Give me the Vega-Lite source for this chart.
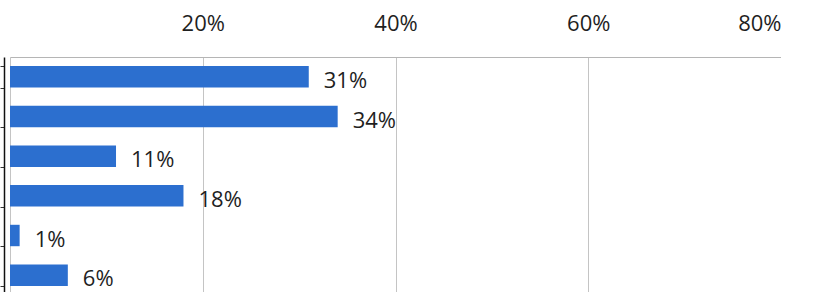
{
  "$schema": "https://vega.github.io/schema/vega-lite/v6.json",
  "autosize": {"type": "none"},
  "padding": {"left": 10, "top": 57, "right": 0, "bottom": 0},
  "width": 771,
  "height": 238,
  "background": "white",
  "config": {"view": {"stroke": null}},
  "data": {
    "values": [
      {"cat": "1", "share": 0.31},
      {"cat": "2", "share": 0.34},
      {"cat": "3", "share": 0.11},
      {"cat": "4", "share": 0.18},
      {"cat": "5", "share": 0.01},
      {"cat": "6", "share": 0.06}
    ]
  },
  "encoding": {
    "y": {
      "field": "cat",
      "type": "nominal",
      "sort": null,
      "scale": {"paddingInner": 0.46, "paddingOuter": 0.23},
      "axis": {
        "title": null,
        "labels": false,
        "domainColor": "#111",
        "domainWidth": 1.5,
        "tickColor": "#333",
        "tickSize": 4,
        "tickBand": "extent",
        "offset": 6
      }
    },
    "x": {
      "field": "share",
      "type": "quantitative",
      "scale": {"domain": [0, 0.8], "nice": false},
      "axis": {
        "orient": "top",
        "title": null,
        "values": [0, 0.2, 0.4, 0.6, 0.8],
        "format": ".0%",
        "labelExpr": "datum.value === 0 ? '' : datum.label",
        "labelFont": "Open Sans",
        "labelFontSize": 22,
        "labelColor": "#1f1f1f",
        "labelPadding": 22,
        "ticks": false,
        "domainColor": "#b5b5b5",
        "gridColor": "#c4c4c4",
        "gridWidth": 1
      }
    }
  },
  "layer": [
    {"mark": {"type": "bar", "color": "#2c6fcf"}},
    {
      "mark": {
        "type": "text",
        "align": "left",
        "baseline": "middle",
        "dx": 15,
        "dy": 4,
        "font": "Open Sans",
        "fontSize": 22,
        "color": "#1f1f1f"
      },
      "encoding": {"text": {"field": "share", "type": "quantitative", "format": ".0%"}}
    }
  ]
}
